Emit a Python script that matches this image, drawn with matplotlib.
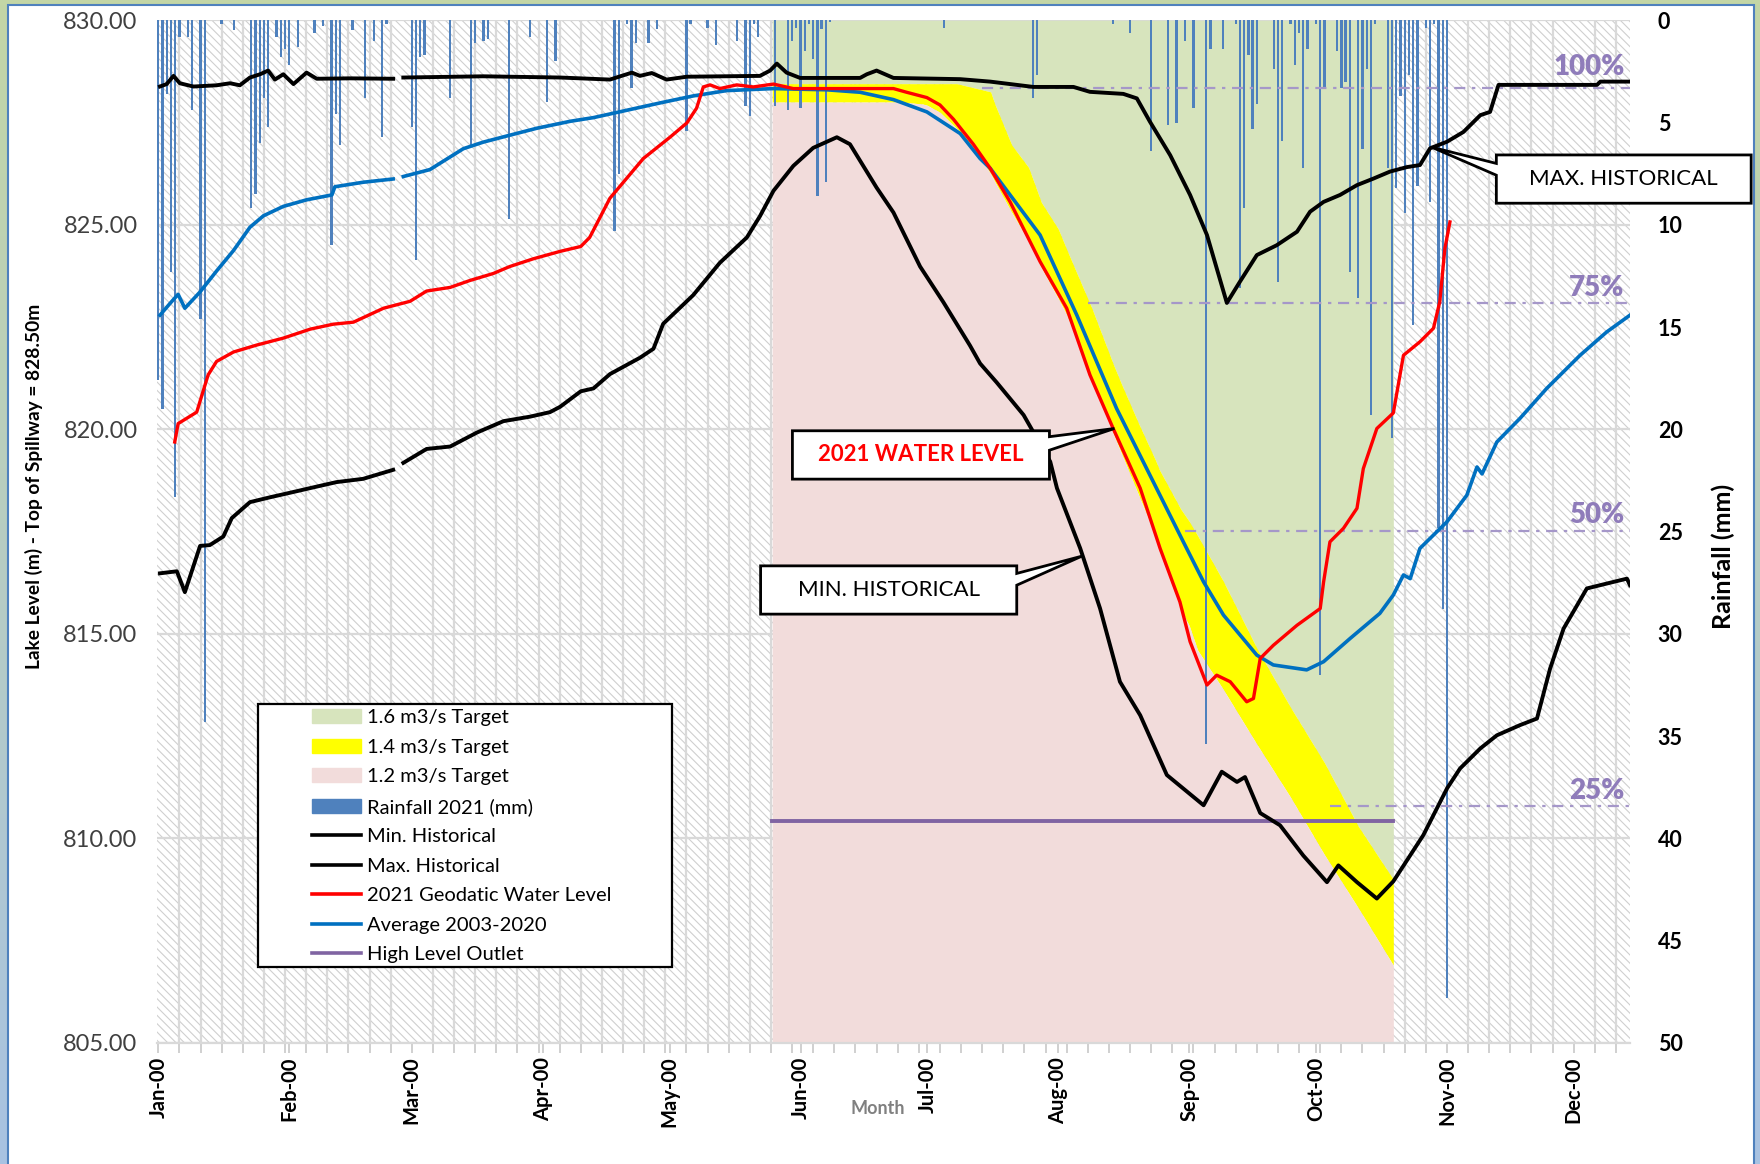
import numpy as np
import matplotlib
matplotlib.use('Agg')
from matplotlib import pyplot as plt
from matplotlib.patches import Patch, Rectangle, Polygon
from matplotlib.lines import Line2D
from matplotlib.colors import LinearSegmentedColormap

plt.rcParams['font.family'] = ['Lato', 'DejaVu Sans']
plt.rcParams['hatch.linewidth'] = 0.8

"""
Data (x = day of year, Jan 1 = 0)
"""
month_days = [0, 31, 60, 91, 121, 152, 182, 213, 244, 274, 305, 335]
month_labels = ['Jan-00', 'Feb-00', 'Mar-00', 'Apr-00', 'May-00', 'Jun-00',
                'Jul-00', 'Aug-00', 'Sep-00', 'Oct-00', 'Nov-00', 'Dec-00']
level_ticks = [805, 810, 815, 820, 825, 830]
rain_ticks = [0, 5, 10, 15, 20, 25, 30, 35, 40, 45, 50]

max_days = [0.4, 2.0, 3.6, 5.1, 8.3, 13.8, 17.0, 19.3, 21.7, 24.1, 26.0, 27.6, 29.6, 32.0,
            35.1, 37.5, 45.4, 55.6, 57.0, 58.0, 76.9, 95.1, 106.9, 112.1, 114.0, 116.8,
            120.3, 125.1, 142.4, 144.8, 146.4, 148.7, 151.9, 166.1, 167.7, 170.0, 174.0,
            189.8, 196.9, 207.1, 216.6, 220.5, 228.4, 231.6, 234.7, 239.5, 244.2, 248.2,
            252.9, 256.0, 260.0, 264.7, 269.5, 272.6, 275.8, 279.7, 283.7, 287.6, 291.5,
            295.5, 298.6, 301.0, 305.0, 308.9, 312.9, 315.2, 317.2, 340.5, 341.3, 348.4]
max_level = [828.38, 828.44, 828.64, 828.46, 828.38, 828.41, 828.46, 828.41, 828.60,
             828.68, 828.77, 828.55, 828.68, 828.44, 828.72, 828.57, 828.58, 828.57,
             np.nan, 828.60, 828.63, 828.60, 828.55, 828.72, 828.64, 828.71, 828.55,
             828.62, 828.64, 828.77, 828.94, 828.72, 828.59, 828.59, 828.68, 828.77,
             828.59, 828.56, 828.50, 828.37, 828.37, 828.25, 828.20, 828.09, 827.52,
             826.70, 825.73, 824.75, 823.09, 823.61, 824.26, 824.50, 824.83, 825.32,
             825.56, 825.73, 825.97, 826.13, 826.30, 826.41, 826.46, 826.87, 827.03,
             827.27, 827.68, 827.76, 828.42, 828.42, 828.50, 828.50]

min_days = [0.4, 4.4, 6.3, 9.9, 12.2, 15.4, 17.4, 21.7, 26.5, 31.2, 37.5, 42.2, 48.5, 55.6,
            57.0, 58.0, 63.5, 69.1, 75.4, 81.7, 88.0, 92.7, 95.1, 100.0, 103.0, 106.9,
            114.0, 117.2, 119.5, 126.6, 132.9, 139.3, 142.4, 145.6, 150.3, 155.0, 160.6,
            163.7, 170.0, 174.0, 180.3, 185.8, 192.1, 194.5, 198.4, 200.0, 204.8, 211.1,
            212.7, 218.2, 222.9, 227.6, 232.4, 238.7, 247.4, 251.7, 255.3, 257.2, 260.8,
            265.5, 271.0, 276.6, 279.3, 283.7, 288.4, 292.3, 299.4, 305.0, 308.1, 312.9,
            316.8, 322.3, 326.3, 329.4, 332.6, 338.1, 344.4, 347.6, 348.3]
min_level = [816.48, 816.53, 816.02, 817.15, 817.17, 817.38, 817.83, 818.22, 818.34,
             818.45, 818.60, 818.71, 818.79, 819.01, np.nan, 819.18, 819.52, 819.58,
             819.92, 820.20, 820.31, 820.42, 820.55, 820.93, 821.00, 821.35, 821.75,
             821.97, 822.58, 823.28, 824.07, 824.69, 825.21, 825.83, 826.44, 826.88,
             827.14, 826.97, 825.91, 825.30, 823.98, 823.11, 822.05, 821.61, 821.15,
             820.95, 820.35, 819.21, 818.56, 817.09, 815.62, 813.83, 813.01, 811.55,
             810.81, 811.63, 811.38, 811.50, 810.62, 810.32, 809.58, 808.93, 809.34,
             808.93, 808.53, 808.95, 810.08, 811.22, 811.71, 812.20, 812.52, 812.77,
             812.93, 814.15, 815.13, 816.11, 816.27, 816.35, 816.19]

wl2021_days = [3.9, 4.7, 9.1, 11.8, 13.8, 17.8, 23.3, 29.6, 36.0, 41.4, 46.2, 53.3, 59.6,
               63.5, 69.1, 73.8, 79.3, 83.2, 88.8, 95.1, 100.0, 102.1, 106.9, 114.8,
               121.1, 125.1, 127.4, 129.0, 130.6, 132.9, 136.9, 140.8, 145.6, 150.3,
               174.0, 177.1, 181.9, 185.0, 188.2, 192.9, 196.9, 201.6, 208.7, 215.0,
               220.5, 226.0, 232.4, 237.1, 241.8, 244.2, 248.2, 250.5, 253.7, 257.6,
               259.2, 260.8, 263.9, 269.5, 275.0, 275.8, 277.3, 280.5, 283.7, 285.2,
               288.4, 292.3, 294.7, 298.6, 301.8, 303.3, 304.5, 305.7]
wl2021_level = [819.69, 820.14, 820.42, 821.33, 821.66, 821.89, 822.06, 822.23, 822.45,
                822.57, 822.62, 822.96, 823.13, 823.38, 823.47, 823.64, 823.81, 823.98,
                824.17, 824.35, 824.47, 824.69, 825.65, 826.62, 827.14, 827.49, 827.85,
                828.37, 828.42, 828.33, 828.42, 828.37, 828.44, 828.33, 828.33, 828.24,
                828.11, 827.93, 827.58, 826.97, 826.38, 825.56, 824.10, 822.96, 821.33,
                820.02, 818.56, 817.09, 815.78, 814.81, 813.75, 813.99, 813.83, 813.34,
                813.42, 814.40, 814.72, 815.21, 815.62, 816.27, 817.25, 817.58, 818.07,
                819.04, 820.02, 820.40, 821.81, 822.14, 822.47, 823.12, 824.42, 825.07]

avg_days = [0.4, 2.8, 4.7, 6.3, 9.9, 13.8, 17.8, 21.7, 24.9, 29.6, 35.1, 41.1, 41.8, 48.5,
            55.6, 57.0, 58.0, 64.3, 72.2, 76.9, 83.2, 89.6, 97.5, 103.0, 110.9, 118.8,
            126.6, 134.5, 145.6, 158.2, 166.1, 174.0, 181.9, 189.8, 194.5, 196.9, 201.6,
            208.7, 217.4, 226.8, 234.7, 242.6, 247.4, 252.1, 260.0, 263.9, 271.8, 275.8,
            282.1, 289.1, 292.3, 294.7, 296.3, 298.6, 305.0, 309.7, 312.1, 313.3, 316.8,
            322.3, 328.6, 336.5, 342.8, 348.3]
avg_level = [822.79, 823.08, 823.30, 822.96, 823.36, 823.87, 824.37, 824.94, 825.22,
             825.45, 825.61, 825.73, 825.93, 826.04, 826.12, np.nan, 826.18, 826.35,
             826.86, 827.02, 827.19, 827.36, 827.53, 827.62, 827.80, 827.98, 828.15,
             828.28, 828.33, 828.30, 828.24, 828.06, 827.76, 827.23, 826.62, 826.38,
             825.73, 824.75, 822.79, 820.51, 818.88, 817.25, 816.27, 815.46, 814.48,
             814.24, 814.12, 814.32, 814.89, 815.50, 815.95, 816.44, 816.35, 817.09,
             817.74, 818.39, 819.08, 818.91, 819.69, 820.27, 821.00, 821.81, 822.38,
             822.79]

# target bands (1.6 above, 1.4 between, 1.2 below)
band_days = [145.3, 176.0, 181.0, 182.0, 185.0, 188.0, 189.0, 193.0, 197.0, 198.0, 202.0,
             206.0, 209.0, 213.0, 215.0, 221.0, 226.0, 228.0, 232.0, 236.0, 237.0, 242.0,
             244.0, 246.0, 252.0, 260.0, 268.0, 276.0, 284.0, 292.3]
band_upper = [828.45, 828.45, 828.45, 828.45, 828.45, 828.45, 828.45, 828.35, 828.25,
              827.95, 826.95, 826.40, 825.55, 824.90, 824.40, 822.95, 821.60, 821.10,
              820.15, 819.25, 819.00, 818.05, 817.75, 817.40, 816.30, 814.65, 813.20,
              811.85, 810.30, 809.00]
band_lower = [828.00, 828.00, 827.95, 827.92, 827.75, 827.45, 827.35, 826.85, 826.25,
              826.05, 825.30, 824.60, 823.95, 823.20, 822.80, 821.20, 819.90, 819.40,
              818.40, 817.40, 817.00, 815.60, 815.20, 814.60, 813.65, 812.30, 811.00,
              809.60, 808.30, 806.90]

outlet_days = [145.3, 292.3]
outlet_level = [810.43, 810.43]

pct_labels = ['100%', '75%', '50%', '25%']
pct_level = [828.35, 823.10, 817.52, 810.80]
pct_start = [195.0, 220.0, 243.0, 277.3]
pct_text_gap = [0.2, 0.03, 0.07, 0.05]

rain_days = [0, 1, 2, 3, 4, 5, 7, 8, 10, 11, 15, 18, 22, 23, 24, 25, 26, 28, 29, 30, 31,
             33, 37, 39, 41, 42, 43, 46, 49, 51, 53, 54, 60, 61, 62, 63, 69, 74, 75, 77,
             78, 83, 88, 92, 94, 108, 109, 111, 112, 113, 116, 118, 125, 126, 130, 132,
             137, 139, 140, 141, 142, 146, 149, 150, 151, 152, 153, 154, 155, 156, 157,
             158, 159, 186, 207, 208, 226, 230, 235, 239, 241, 243, 245, 248, 249, 252,
             255, 256, 257, 258, 259, 260, 264, 265, 266, 268, 269, 270, 271, 272, 274,
             275, 276, 279, 280, 281, 282, 284, 285, 286, 287, 288, 291, 292, 293, 294,
             295, 296, 297, 298, 300, 301, 302, 303, 304, 305]
rain_mm = [17.6, 19.0, 3.6, 12.3, 23.3, 0.8, 0.8, 4.4, 14.6, 34.3, 0.2, 0.5, 9.2, 8.5,
           6.0, 3.8, 5.2, 0.8, 1.8, 1.4, 2.2, 1.3, 0.6, 0.3, 11.0, 4.6, 6.1, 0.5, 3.8,
           1.0, 5.7, 0.2, 5.2, 11.7, 1.8, 1.7, 3.8, 6.1, 1.1, 1.0, 0.9, 9.7, 0.8, 4.0,
           2.0, 10.3, 7.5, 0.2, 3.3, 1.1, 1.1, 0.45, 5.4, 0.2, 0.4, 1.2, 1.0, 4.2, 4.7,
           0.2, 0.8, 4.2, 4.4, 1.0, 0.4, 4.3, 1.5, 0.2, 1.9, 8.6, 0.45, 7.9, 0.1, 0.4,
           3.8, 2.7, 0.2, 0.6, 6.4, 5.1, 5.0, 1.0, 4.3, 35.4, 1.4, 1.4, 0.2, 13.1, 9.2,
           1.7, 5.3, 4.1, 2.4, 12.8, 5.9, 0.2, 2.2, 0.6, 7.2, 1.4, 0.2, 32.0, 3.3, 1.5,
           3.3, 3.0, 12.3, 13.6, 6.3, 2.4, 19.3, 0.2, 7.2, 20.4, 8.2, 3.7, 9.4, 2.7, 14.9,
           8.1, 0.4, 8.9, 0.2, 24.8, 28.8, 47.8]

"""
Plotting
"""
def callout(axis, box, wedge, tip, side, text, **kw):
    x0, y0, x1, y1 = box
    w0, w1 = wedge
    tx, ty = axis.transAxes.inverted().transform(axis.transData.transform(tip))
    if side == 'right':
        pts = [(x0, y1), (x1, y1), (x1, w0), (tx, ty), (x1, w1), (x1, y0), (x0, y0)]
    else:
        pts = [(x0, y1), (x1, y1), (x1, y0), (x0, y0), (x0, w1), (tx, ty), (x0, w0)]
    axis.add_patch(Polygon(pts, closed=True, transform=axis.transAxes, facecolor='white',
                           edgecolor='black', lw=2.0, clip_on=False, zorder=6))
    axis.text((x0 + x1) / 2, (y0 + y1) / 2, text, transform=axis.transAxes, ha='center',
              va='center', zorder=7, clip_on=False, **kw)


fig = plt.figure(figsize=(17.6, 11.64), dpi=100)

# frame background
bg = fig.add_axes([0, 0, 1, 1], zorder=-10)
grad = np.linspace(0, 1, 256).reshape(-1, 1)
cmap = LinearSegmentedColormap.from_list('frame', ['#c3d6a6', '#a8c2e2'])
bg.imshow(grad, aspect='auto', cmap=cmap, extent=[0, 1, 0, 1], origin='upper')
bg.add_patch(Rectangle((0.0044, -0.01), 0.992, 1.0057, transform=bg.transAxes,
                       facecolor='white', edgecolor='#4f81bd', lw=1.5))
bg.set_xlim(0, 1)
bg.set_ylim(0, 1)
bg.axis('off')

ax = fig.add_axes([0.0892, 0.1040, 0.8369, 0.8786])
ax.set_zorder(0)
ax.set_xlim(-0.3, 348.3)
ax.set_ylim(805, 830)
ax.set_facecolor('white')
ax.add_patch(Rectangle((0, 0), 1, 1, transform=ax.transAxes, facecolor='white',
                       edgecolor='#cfcfcf', hatch='\\\\\\\\', lw=0, zorder=0))
ax.set_axisbelow(True)
ax.set_xticks(month_days)
ax.set_xticklabels(month_labels, rotation=90, fontsize=14.5, fontweight='bold')
ax.set_xticks(np.arange(0, 349, 5), minor=True)
ax.tick_params(axis='x', which='both', length=7, width=1.2, color='#c8c8c8', pad=3)
ax.grid(which='minor', axis='x', color='#d9d9d9', lw=1.6)
ax.grid(which='major', axis='y', color='#d9d9d9', lw=1.6)
ax.set_yticks(level_ticks)
ax.set_yticklabels([f'{v:.2f}' for v in level_ticks], fontsize=17, color='#404040')
ax.tick_params(axis='y', length=0, pad=14)
for s in ['top', 'left', 'right']:
    ax.spines[s].set_visible(False)
ax.spines['bottom'].set_color('#d9d9d9')
ax.spines['bottom'].set_linewidth(1.6)

ax.fill_between(band_days, band_upper, 830, color='#d7e4bd', lw=0, zorder=1)
ax.fill_between(band_days, band_lower, band_upper, color='#ffff00', lw=0, zorder=1)
ax.fill_between(band_days, 805, band_lower, color='#f2dcdb', lw=0, zorder=1)

# rainfall
ax_rain = ax.twinx()
ax_rain.set_zorder(1)
ax_rain.set_ylim(50, 0)
ax_rain.bar(rain_days, rain_mm, width=0.55, color='#4f81bd', lw=0)
ax_rain.set_yticks(rain_ticks)
ax_rain.set_yticklabels([str(v) for v in rain_ticks], fontsize=15.5, fontweight='bold')
ax_rain.tick_params(axis='y', length=0, pad=20)
for s in ax_rain.spines.values():
    s.set_visible(False)

# water levels
ax_ln = ax.twinx()
ax_ln.set_zorder(2)
ax_ln.set_ylim(805, 830)
ax_ln.set_xlim(-0.3, 348.3)
ax_ln.set_yticks([])
for s in ax_ln.spines.values():
    s.set_visible(False)

for lvl, x0, lab, gap in zip(pct_level, pct_start, pct_labels, pct_text_gap):
    ax_ln.plot([x0, 348.3], [lvl, lvl], color='#a597c9', lw=1.6,
               ls=(0, (5, 3, 1.5, 3)), zorder=2)
    ax_ln.text(347, lvl + gap, lab, ha='right', va='bottom', fontsize=20,
               fontweight='heavy', color='#8f7cba', zorder=2)

ax_ln.plot(outlet_days, outlet_level, color='#8064a2', lw=2.8, zorder=3)
ax_ln.plot(max_days, max_level, color='black', lw=2.8, zorder=3)
ax_ln.plot(min_days, min_level, color='black', lw=2.8, zorder=3)
ax_ln.plot(avg_days, avg_level, color='#0070c0', lw=2.6, zorder=3)
ax_ln.plot(wl2021_days, wl2021_level, color='#ff0000', lw=2.4, zorder=3)

# legend
ax_ln.add_patch(Rectangle((0.0686, 0.0746), 0.2812, 0.2569, transform=ax_ln.transAxes,
                          facecolor='white', edgecolor='black', lw=1.6, zorder=4))
handles = [Patch(color='#d7e4bd'), Patch(color='#ffff00'), Patch(color='#f2dcdb'),
           Patch(color='#4f81bd'),
           Line2D([], [], color='black', lw=2.6), Line2D([], [], color='black', lw=2.6),
           Line2D([], [], color='#ff0000', lw=2.6), Line2D([], [], color='#0070c0', lw=2.6),
           Line2D([], [], color='#8064a2', lw=2.6)]
labels = ['1.6 m3/s Target', '1.4 m3/s Target', '1.2 m3/s Target', 'Rainfall 2021 (mm)',
          'Min. Historical', 'Max. Historical', '2021 Geodatic Water Level',
          'Average 2003-2020', 'High Level Outlet']
leg = ax_ln.legend(handles, labels, loc='upper left', bbox_to_anchor=(0.1052, 0.3262),
                   frameon=False, fontsize=14.5, handlelength=2.45, handletextpad=0.3,
                   labelspacing=0.615, borderpad=0, borderaxespad=0)
leg.set_zorder(5)

callout(ax_ln, (0.9093, 0.8211, 1.0823, 0.8683), (0.8600, 0.8485), (301.3, 826.9), 'left',
        'MAX. HISTORICAL', fontsize=16, color='black')
callout(ax_ln, (0.4314, 0.5513, 0.6059, 0.5986), (0.5928, 0.5796), (226.3, 820.02), 'right',
        '2021 WATER LEVEL', fontsize=16, color='#ff0000', fontweight='bold')
callout(ax_ln, (0.4098, 0.4193, 0.5837, 0.4665), (0.4591, 0.4476), (218.6, 816.9), 'right',
        'MIN. HISTORICAL', fontsize=16, color='black')

fig.text(0.0193, 0.5825, 'Lake Level (m) - Top of Spillway = 828.50m', rotation=90,
         ha='center', va='center', fontsize=13.8, fontweight='bold')
fig.text(0.979, 0.522, 'Rainfall (mm)', rotation=90, ha='center', va='center',
         fontsize=18, fontweight='bold')
fig.text(0.4989, 0.0473, 'Month', ha='center', va='center', fontsize=13,
         fontweight='bold', color='#808080')

plt.savefig('out.png', dpi=100)
